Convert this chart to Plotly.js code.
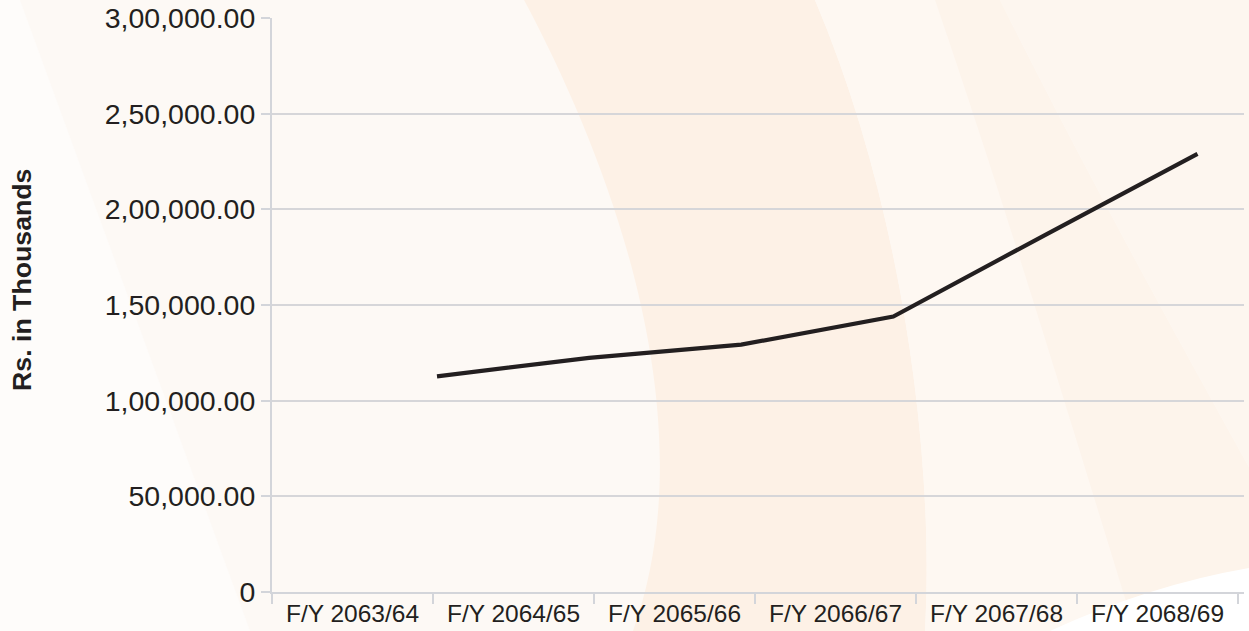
<!DOCTYPE html>
<html>
<head>
<meta charset="utf-8">
<script src="https://cdn.plot.ly/plotly-3.0.1.min.js"></script>
<style>
  html, body { margin: 0; padding: 0; background: #fdf9f5; }
  #chart { width: 1249px; height: 631px; }
</style>
</head>
<body>
<div id="chart"></div>
<script>
// ---- data ----
const categories = ['F/Y 2063/64', 'F/Y 2064/65', 'F/Y 2065/66', 'F/Y 2066/67', 'F/Y 2067/68', 'F/Y 2068/69'];
const values = [112700, 122400, 129300, 144000, 186700, 229000];
const yTickVals = [0, 50000, 100000, 150000, 200000, 250000, 300000];
const yTickText = ['0', '50,000.00', '1,00,000.00', '1,50,000.00', '2,00,000.00', '2,50,000.00', '3,00,000.00'];
const yTitle = 'Rs. in Thousands';

// ---- layout geometry (pixels) ----
const W = 1249, H = 631;
const M = { l: 272, r: 5, t: 18, b: 39 };
const PW = W - M.l - M.r, PH = H - M.t - M.b;
function px(X) { return ((X - M.l) / PW).toFixed(4); }
function py(Y) { return ((H - M.b - Y) / PH).toFixed(4); }
function P(X, Y) { return px(X) + ',' + py(Y); }

function bgShape(path, color) {
  return { type: 'path', xref: 'paper', yref: 'paper', layer: 'below',
           path: path, fillcolor: color, line: { width: 0 } };
}

const shapes = [
  // faint lighter wedge at far left
  bgShape('M ' + P(0,0) + ' L ' + P(20,0) + ' L ' + P(250,631) + ' L ' + P(0,631) + ' Z', '#fefcfa'),
  // main orange swoosh band
  bgShape('M ' + P(524,0) + ' C ' + P(620,180) + ' ' + P(705,430) + ' ' + P(633,631) +
          ' L ' + P(925,631) + ' C ' + P(935,450) + ' ' + P(900,200) + ' ' + P(815,0) + ' Z', '#fdf1e6'),
  // soft band right of swoosh
  bgShape('M ' + P(815,0) + ' C ' + P(900,200) + ' ' + P(935,450) + ' ' + P(925,631) +
          ' L ' + P(1135,631) + ' C ' + P(1070,420) + ' ' + P(1010,220) + ' ' + P(935,0) + ' Z', '#fef8f2'),
  // subtle orange band on the right
  bgShape('M ' + P(935,0) + ' C ' + P(1010,220) + ' ' + P(1070,420) + ' ' + P(1135,631) +
          ' L ' + P(1249,631) + ' L ' + P(1249,467) + ' C ' + P(1190,360) + ' ' + P(1100,200) + ' ' + P(1000,0) + ' Z', '#fdf4eb'),
  bgShape('M ' + P(1000,0) + ' C ' + P(1100,200) + ' ' + P(1190,360) + ' ' + P(1249,467) +
          ' L ' + P(1249,0) + ' Z', '#fdf6ef'),
  // white corner bottom right
  bgShape('M ' + P(1050,631) + ' Q ' + P(1150,585) + ' ' + P(1249,568) + ' L ' + P(1249,631) + ' Z', '#ffffff')
];

const axisGray = '#d3d5da';
const textColor = '#231f20';
const fontFam = 'Liberation Sans, Arial, Helvetica, sans-serif';

const trace = {
  type: 'scatter', mode: 'lines',
  x: categories, y: values,
  xaxis: 'x2', yaxis: 'y',
  line: { color: '#231f20', width: 4.2 },
  hoverinfo: 'x+y', showlegend: false
};

// invisible companion trace so the primary category axis is populated
const axisTrace = {
  type: 'scatter', mode: 'none', x: categories, y: values.map(() => null),
  xaxis: 'x', yaxis: 'y', showlegend: false, hoverinfo: 'skip'
};

const layout = {
  width: W, height: H,
  margin: M,
  paper_bgcolor: '#fdf9f5',
  plot_bgcolor: 'rgba(0,0,0,0)',
  showlegend: false,
  font: { family: fontFam, color: textColor },
  xaxis: {
    type: 'category',
    range: [-0.5, 5.537],
    showgrid: false, zeroline: false,
    showline: true, linecolor: axisGray, linewidth: 2,
    ticks: 'outside', tickson: 'boundaries', ticklen: 10, tickwidth: 2, tickcolor: axisGray,
    tickfont: { size: 24.5, color: textColor, family: fontFam },
    ticklabelstandoff: -1,
    fixedrange: true
  },
  xaxis2: {
    type: 'category', overlaying: 'x', visible: false,
    range: [-1.0848, 5.3057], fixedrange: true
  },
  yaxis: {
    range: [0, 300000],
    tickvals: yTickVals, ticktext: yTickText,
    showgrid: true, gridcolor: '#d6d6d9', gridwidth: 2,
    zeroline: false,
    showline: true, linecolor: axisGray, linewidth: 2,
    ticks: 'outside', ticklen: 9, tickwidth: 2, tickcolor: axisGray,
    tickfont: { size: 28.5, color: textColor, family: fontFam },
    ticklabelstandoff: 0,
    fixedrange: true
  },
  annotations: [{
    text: '<b>' + yTitle + '</b>',
    xref: 'paper', yref: 'paper',
    x: Number(px(22)), y: Number(py(280)),
    xanchor: 'center', yanchor: 'middle',
    textangle: -90, showarrow: false,
    font: { size: 26.7, color: textColor, family: fontFam }
  }],
  shapes: shapes
};

Plotly.newPlot('chart', [axisTrace, trace], layout, { displayModeBar: false, staticPlot: true });
</script>
</body>
</html>
